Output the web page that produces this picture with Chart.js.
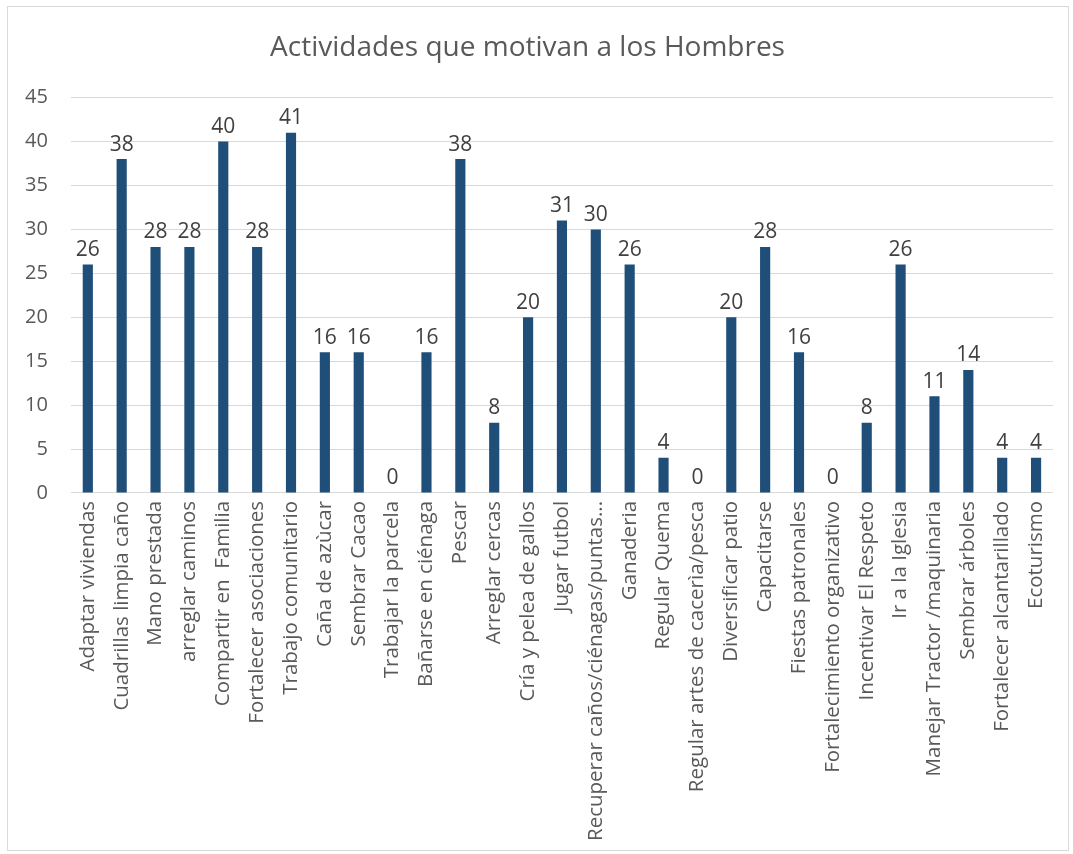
<!DOCTYPE html>
<html>
<head>
<meta charset="utf-8">
<script src="https://cdn.jsdelivr.net/npm/chart.js@4"></script>
<style>
  html, body { margin: 0; padding: 0; background: #fff; }
  #wrap { position: relative; width: 1073px; height: 854px; }
</style>
</head>
<body>
<div id="wrap"><canvas id="menChart"></canvas></div>
<script>
const chartTitle = 'Actividades que motivan a los Hombres';

const activities = [
  'Adaptar viviendas', 'Cuadrillas limpia caño', 'Mano prestada', 'arreglar caminos',
  'Compartir en  Familia', 'Fortalecer asociaciones', 'Trabajo comunitario', 'Caña de azùcar',
  'Sembrar Cacao', 'Trabajar la parcela', 'Bañarse en ciénaga', 'Pescar', 'Arreglar cercas',
  'Cría y pelea de gallos', 'Jugar futbol', 'Recuperar caños/ciénagas/puntas...', 'Ganaderia',
  'Regular Quema', 'Regular artes de cacerìa/pesca', 'Diversificar patio', 'Capacitarse',
  'Fiestas patronales', 'Fortalecimiento organizativo', 'Incentivar El Respeto', 'Ir a la Iglesia',
  'Manejar Tractor /maquinaria', 'Sembrar árboles', 'Fortalecer alcantarillado', 'Ecoturismo'
];

const counts = [26, 38, 28, 28, 40, 28, 41, 16, 16, 0, 16, 38, 8, 20, 31, 30, 26, 4, 0, 20, 28, 16, 0, 8, 26, 11, 14, 4, 4];

const yTicks = [0, 5, 10, 15, 20, 25, 30, 35, 40, 45];

const FONT = '"Open Sans", "Noto Sans", sans-serif';

// value printed above each bar
const barValues = {
  id: 'barValues',
  afterDatasetsDraw(chart) {
    const { ctx } = chart;
    const meta = chart.getDatasetMeta(0);
    ctx.save();
    ctx.font = `21px ${FONT}`;
    ctx.fillStyle = '#404040';
    ctx.textAlign = 'center';
    ctx.textBaseline = 'bottom';
    meta.data.forEach((bar, i) => {
      ctx.fillText(String(counts[i]), bar.x, bar.y - 4);
    });
    ctx.restore();
  }
};

// thin frame around the whole chart area
const outerFrame = {
  id: 'outerFrame',
  afterDraw(chart) {
    const { ctx } = chart;
    ctx.save();
    ctx.strokeStyle = '#d9d9d9';
    ctx.lineWidth = 1;
    ctx.strokeRect(7.5, 6.5, chart.width - 12, chart.height - 10);
    ctx.restore();
  }
};

new Chart(document.getElementById('menChart'), {
  type: 'bar',
  data: {
    labels: activities,
    datasets: [{
      data: counts,
      backgroundColor: '#1f4e79',
      barPercentage: 0.3,
      categoryPercentage: 1.0,
    }],
  },
  options: {
    responsive: true,
    maintainAspectRatio: false,
    animation: false,
    layout: { padding: { top: 10, left: 2, right: 20, bottom: 5 } },
    plugins: {
      legend: { display: false },
      tooltip: { enabled: false },
      title: {
        display: true,
        text: chartTitle,
        color: '#595959',
        font: { family: FONT, size: 28, weight: 'normal' },
        padding: { top: 21, bottom: 33 },
      },
    },
    scales: {
      x: {
        grid: { display: false, drawTicks: false },
        border: { display: false },
        ticks: {
          autoSkip: false,
          minRotation: 90,
          maxRotation: 90,
          padding: 8,
          color: '#595959',
          font: { family: FONT, size: 20.5 },
        },
      },
      y: {
        min: 0,
        max: 45,
        afterBuildTicks(axis) {
          axis.ticks = yTicks.map(v => ({ value: v }));
        },
        grid: { color: '#d9d9d9', drawTicks: false },
        border: { display: false },
        ticks: {
          padding: 23,
          color: '#595959',
          font: { family: FONT, size: 20 },
        },
      },
    },
  },
  plugins: [barValues, outerFrame],
});
</script>
</body>
</html>
